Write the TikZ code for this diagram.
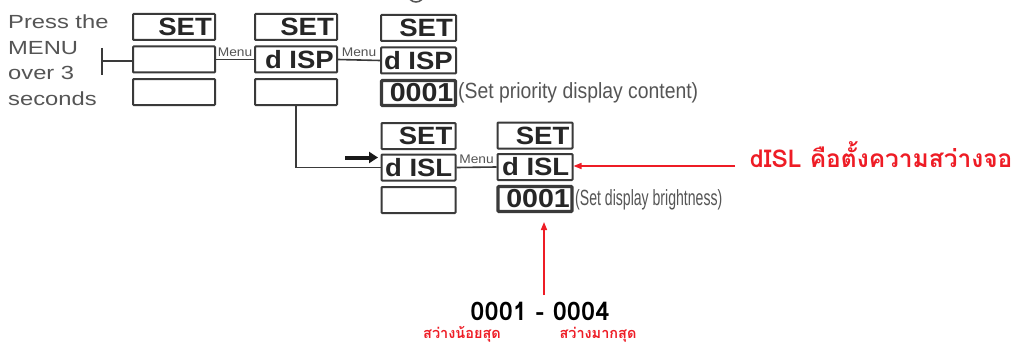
\documentclass[tikz,border=0pt]{standalone}
\usepackage{fontspec}
\setmainfont{Liberation Sans}
\newfontfamily\pressfont[FakeStretch=1.25]{Liberation Sans}
\newfontfamily\segfont[FakeStretch=1.1]{Liberation Sans}
\newfontfamily\menufont[FakeStretch=1.1]{Liberation Sans}
\newfontfamily\noteafont[FakeStretch=0.88]{Liberation Sans}
\newfontfamily\notebfont[FakeStretch=0.64]{Liberation Sans}
\newfontfamily\thaifont[Script=Thai]{Loma}
\usetikzlibrary{arrows.meta}
\definecolor{ink}{HTML}{3A3A3A}
\definecolor{txtgray}{HTML}{555555}
\definecolor{thred}{HTML}{EE1C25}
\tikzset{
  dispbox/.style={draw=ink, line width=2pt, rounded corners=0.8pt, minimum width=#1, minimum height=26pt, inner sep=0pt},
  valbox/.style={draw=ink, line width=3.2pt, rounded corners=0.8pt, minimum width=#1, minimum height=25pt, inner sep=0pt},
  segtext/.style={font={\segfont\bfseries\fontsize{25}{25}\selectfont}, text=black!85, inner sep=0pt, anchor=east},
  valtext/.style={font={\segfont\bfseries\fontsize{26}{26}\selectfont}, text=black!85, inner sep=0pt, anchor=east},
  conn/.style={draw=ink, line width=1.6pt},
  menulbl/.style={font={\menufont\fontsize{12.5}{12.5}\selectfont}, text=txtgray, inner sep=2.5pt, above},
  redarrow/.style={draw=thred, line width=1.5pt, -{Triangle[length=8pt,width=6pt]}},
  blackarrow/.style={draw=black!90, line width=4pt, -{Triangle[length=9pt,width=11pt]}},
}
\begin{document}
\begin{tikzpicture}[x=1pt,y=-1pt]
\useasboundingbox (0,0) rectangle (1017,345);
\fill[white] (0,0) rectangle (1017,345);
% cut-off circle at the top
\begin{scope}
\clip (0,0) rectangle (1017,345);
\draw[txtgray, line width=1.5pt] (416,-6) circle (8pt);
\end{scope}
% instruction text
\node[font={\pressfont\fontsize{19}{25.7}\selectfont}, text=txtgray, align=left, anchor=north west, inner sep=0pt] (press) at (8,14.4) {Press the\\MENU\\over 3\\seconds};
% column 1
\node[dispbox=82] (c1a) at (174,27) {};
\node[dispbox=82] (c1b) at (174,59.5) {};
\node[dispbox=82] (c1c) at (174,92) {};
\node[segtext] (t1a) at ([xshift=-4pt]c1a.east) {SET};
% column 2
\node[dispbox=82] (c2a) at (296,27) {};
\node[dispbox=82] (c2b) at (296,59.5) {};
\node[dispbox=82] (c2c) at (296,92) {};
\node[segtext] (t2a) at ([xshift=-4pt]c2a.east) {SET};
\node[segtext] (t2b) at ([xshift=-4pt]c2b.east) {d ISP};
% column 3
\node[dispbox=75] (c3a) at (418.5,28) {};
\node[dispbox=75] (c3b) at (418.5,60.5) {};
\node[valbox=74] (c3c) at (418.5,93) {};
\node[segtext] (t3a) at ([xshift=-4pt]c3a.east) {SET};
\node[segtext] (t3b) at ([xshift=-4pt]c3b.east) {d ISP};
\node[valtext] (t3c) at ([xshift=-3.5pt]c3c.east) {0001};
\node[font={\noteafont\fontsize{22}{22}\selectfont}, text=txtgray, inner sep=0pt, anchor=west] (n3) at (458,92.5) {(Set priority display content)};
% column 4
\node[dispbox=74] (c4a) at (418.5,136) {};
\node[dispbox=74] (c4b) at (418.5,167.5) {};
\node[dispbox=74] (c4c) at (418.5,200) {};
\node[segtext] (t4a) at ([xshift=-4pt]c4a.east) {SET};
\node[segtext] (t4b) at ([xshift=-4pt]c4b.east) {d ISL};
% column 5
\node[dispbox=75] (c5a) at (535,135.5) {};
\node[dispbox=75] (c5b) at (535,167) {};
\node[valbox=74] (c5c) at (535,199) {};
\node[segtext] (t5a) at ([xshift=-4pt]c5a.east) {SET};
\node[segtext] (t5b) at ([xshift=-4pt]c5b.east) {d ISL};
\node[valtext] (t5c) at ([xshift=-3.5pt]c5c.east) {0001};
\node[font={\notebfont\fontsize{22}{22}\selectfont}, text=txtgray, inner sep=0pt, anchor=west] (n5) at (575,199.5) {(Set display brightness)};
% bracket
\coordinate (bt) at (102,48);
\coordinate (bb) at (102,75);
\coordinate (bm) at (102,61);
\draw[conn, line width=2pt] (bt) -- (bb);
\draw[conn] (bm) -- (c1b.west |- bm);
% menu connectors
\draw[conn] (c1b.east) -- node[menulbl] (m1) {Menu} (c2b.west);
\draw[conn] (c2b.east) -- node[menulbl] (m2) {Menu} (c3b.west);
\draw[conn] (c4b.east) -- node[menulbl] (m3) {Menu} (c5b.west);
\draw[conn] (c2c.south) |- (c4b.west);
% black arrow
\coordinate (ka) at (345,157.5);
\coordinate (kb) at (378,157.5);
\draw[blackarrow] (ka) -- (kb);
% red annotations
\node[font={\thaifont\bfseries\fontsize{24.5}{24.5}\selectfont}, text=thred, inner sep=0pt, anchor=base west] (note) at (750,167) {dISL คือตั้งความสว่างจอ};
\coordinate (ra) at (735,166);
\draw[redarrow] (ra) -- (c5b.east |- ra);
\node[font={\thaifont\bfseries\fontsize{25.5}{25.5}\selectfont}, text=black, inner sep=0pt, anchor=base] (rng) at (540,320) {0001 - 0004};
\coordinate (rb) at (544,295);
\coordinate (rt) at (544,222);
\draw[redarrow] (rb) -- (rt);
\node[font={\thaifont\bfseries\fontsize{14.5}{14.5}\selectfont}, text=thred, inner sep=0pt, anchor=base] (lo) at (462,338) {สว่างน้อยสุด};
\node[font={\thaifont\bfseries\fontsize{14.5}{14.5}\selectfont}, text=thred, inner sep=0pt, anchor=base] (hi) at (598,338) {สว่างมากสุด};
\end{tikzpicture}
\end{document}
